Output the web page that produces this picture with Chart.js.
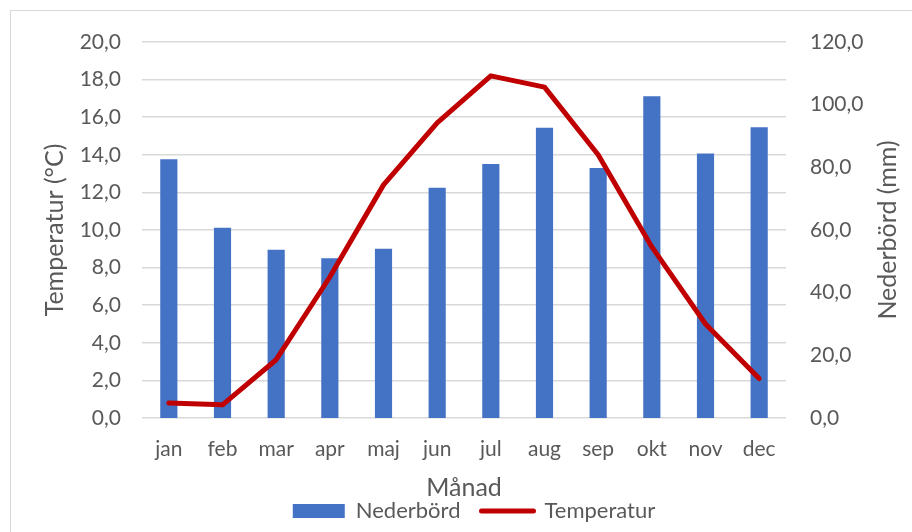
<!DOCTYPE html>
<html>
<head>
<meta charset="utf-8">
<script src="https://cdn.jsdelivr.net/npm/chart.js@4.4.0/dist/chart.umd.min.js"></script>
<style>
  html, body { margin: 0; padding: 0; background: #fff; }
  #wrap { position: relative; width: 912px; height: 532px; overflow: hidden; }
  #frame { position: absolute; left: 10px; top: 10px; width: 920px; height: 540px; border: 1px solid #d9d9d9; }
  #c { position: absolute; left: 0; top: 0; }
</style>
</head>
<body>
<div id="wrap">
  <div id="frame"></div>
  <canvas id="c" width="912" height="532"></canvas>
</div>
<script>
const months = ['jan', 'feb', 'mar', 'apr', 'maj', 'jun', 'jul', 'aug', 'sep', 'okt', 'nov', 'dec'];
const precipitation = [82.6, 60.7, 53.7, 51.0, 54.0, 73.5, 81.1, 92.6, 79.8, 102.7, 84.4, 92.8];
const temperature = [0.8, 0.7, 3.1, 7.5, 12.4, 15.7, 18.2, 17.6, 14.0, 9.1, 5.0, 2.1];

const tempTitle = 'Temperatur (°C)';
const precTitle = 'Nederbörd (mm)';
const xTitle = 'Månad';

const textColor = '#595959';
const gridColor = '#d9d9d9';
const barColor = '#4472c4';
const lineColor = '#c00000';

Chart.defaults.font.family = 'Lato';
Chart.defaults.color = textColor;

const fmt = (v) => v.toFixed(1).replace('.', ',');

// Excel-style rotated titles for both value axes (both read bottom to top)
const sideTitles = {
  id: 'sideTitles',
  afterDraw(chart) {
    const ctx = chart.ctx;
    const mid = (chart.chartArea.top + chart.chartArea.bottom) / 2;
    const items = [
      { text: tempTitle, x: chart.scales.y.left + 19 },
      { text: precTitle, x: chart.scales.y1.right - 24 }
    ];
    ctx.save();
    ctx.fillStyle = textColor;
    ctx.font = '25px Lato';
    ctx.textAlign = 'center';
    ctx.textBaseline = 'middle';
    items.forEach((it) => {
      ctx.save();
      ctx.translate(it.x, mid);
      ctx.rotate(-Math.PI / 2);
      ctx.fillText(it.text, 0, 0);
      ctx.restore();
    });
    ctx.restore();
  }
};

new Chart(document.getElementById('c').getContext('2d'), {
  data: {
    labels: months,
    datasets: [{
      type: 'bar',
      label: 'Nederbörd',
      data: precipitation,
      yAxisID: 'y1',
      backgroundColor: barColor,
      borderWidth: 0,
      barPercentage: 0.32,
      categoryPercentage: 1,
      order: 1
    }, {
      type: 'line',
      label: 'Temperatur',
      data: temperature,
      yAxisID: 'y',
      borderColor: lineColor,
      backgroundColor: lineColor,
      borderWidth: 5,
      borderCapStyle: 'round',
      borderJoinStyle: 'round',
      pointRadius: 0,
      tension: 0,
      order: 0
    }]
  },
  options: {
    responsive: false,
    animation: false,
    devicePixelRatio: 1,
    layout: { padding: { left: 36, right: 0, top: 42, bottom: 0 } },
    plugins: {
      tooltip: { enabled: false },
      legend: {
        position: 'bottom',
        labels: {
          usePointStyle: true,
          pointStyleWidth: 52,
          boxHeight: 14,
          padding: 21,
          color: textColor,
          font: { size: 22 },
          generateLabels: () => [
            { text: 'Nederbörd', fillStyle: barColor, strokeStyle: barColor, lineWidth: 0, pointStyle: 'rect', datasetIndex: 0, fontColor: textColor },
            { text: 'Temperatur', fillStyle: lineColor, strokeStyle: lineColor, lineWidth: 5, lineCap: 'round', pointStyle: 'line', datasetIndex: 1, fontColor: textColor }
          ]
        }
      }
    },
    scales: {
      x: {
        grid: { display: false, drawTicks: false },
        border: { display: false },
        ticks: { padding: 19, font: { size: 21 }, color: textColor },
        title: { display: true, text: xTitle, color: textColor, font: { size: 25 }, padding: { top: 0, bottom: -24 } },
        afterFit: (s) => { s.height = 61; }
      },
      y: {
        position: 'left',
        min: 0,
        max: 20,
        grid: { color: gridColor, lineWidth: 1.5, drawTicks: false },
        border: { display: false },
        ticks: { stepSize: 2, padding: 21, font: { size: 21 }, color: textColor, callback: (v) => fmt(v) },
        afterFit: (s) => { s.width = 106; }
      },
      y1: {
        position: 'right',
        min: 0,
        max: 120,
        grid: { display: false, drawTicks: false },
        border: { display: false },
        ticks: { stepSize: 20, padding: 24, font: { size: 21 }, color: textColor, callback: (v) => fmt(v) },
        afterFit: (s) => { s.width = 126; }
      }
    }
  },
  plugins: [sideTitles]
});
</script>
</body>
</html>
